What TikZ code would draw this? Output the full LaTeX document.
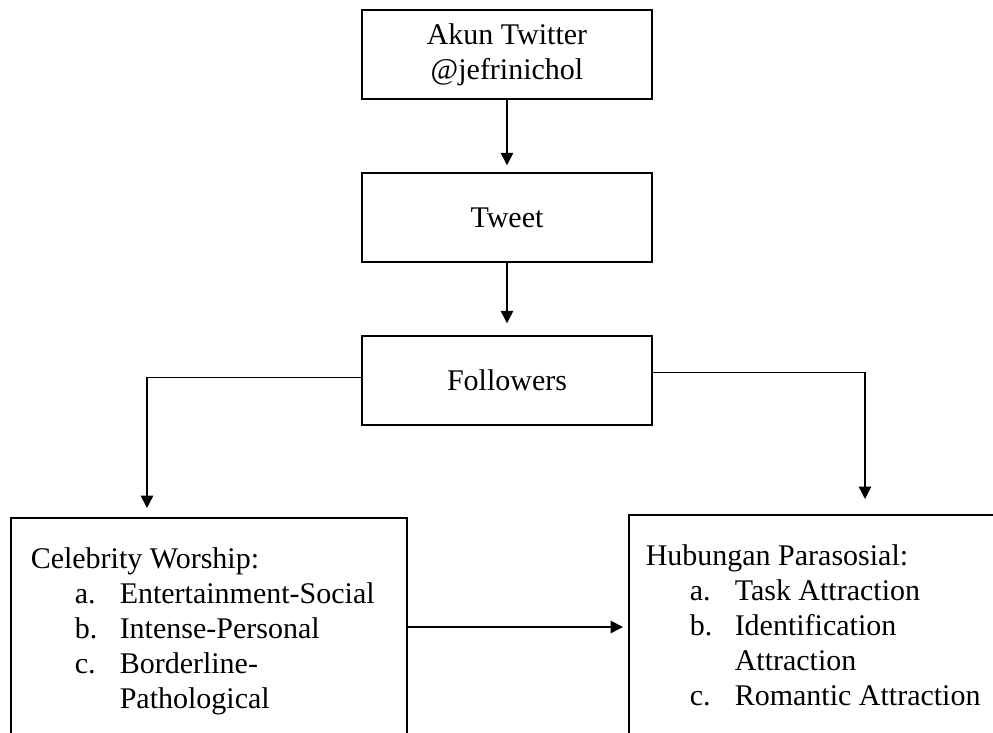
\documentclass[tikz,border=0pt]{standalone}
\usepackage{fontspec}
\setmainfont{Liberation Serif}
\usetikzlibrary{arrows.meta}
\newcommand{\listitem}[2]{\hspace*{17.6pt}\makebox[18pt][l]{#1}#2}
\newcommand{\listcont}[1]{\hspace*{35.6pt}#1}

\begin{document}
\begin{tikzpicture}[x=0.4pt, y=0.4pt, font=\fontsize{12}{14}\selectfont, line width=0.6pt,
                    main/.style = {draw, minimum width=116pt, minimum height=35.6pt, align=center},
                    listbox/.style = {draw, anchor=north west, inner ysep=12pt},
                    arr/.style = {-{Triangle[length=5pt, width=5pt]}},
                    node distance=65.2pt]
                    \useasboundingbox (0,0) rectangle (993,-733);
                    \clip (0,0) rectangle (993,-733);

                    \node[main] (1) at (507,-54.5) {Akun Twitter\\@jefrinichol};
                    \node[main] (2) [below of=1] {Tweet};
                    \node[main] (3) [below of=2] {Followers};

                    \node[listbox, inner xsep=8pt] (4) at (10,-517) {\parbox[t][90pt][t]{142.4pt}{Celebrity Worship:\\
                        \listitem{a.}{Entertainment-Social}\\
                        \listitem{b.}{Intense-Personal}\\
                        \listitem{c.}{Borderline-}\\
                        \listcont{Pathological}}};
                    \node[listbox, inner xsep=6.8pt] (5) at (628,-514) {\parbox[t][90pt][t]{145pt}{Hubungan Parasosial:\\
                        \listitem{a.}{Task Attraction}\\
                        \listitem{b.}{Identification}\\
                        \listcont{Attraction}\\
                        \listitem{c.}{Romantic Attraction}}};

                    \coordinate (6) at ([yshift=-44pt]4.north east);

                    \draw[arr, shorten >=2.8pt] (1) -- (2);
                    \draw[arr, shorten >=4.8pt] (2) -- (3);
                    \draw[arr, shorten >=3.6pt] ([yshift=1.2pt]3.west) -| ([xshift=54.8pt]4.north west);
                    \draw[arr, shorten >=6pt] ([yshift=3.2pt]3.east) -| ([xshift=94.8pt]5.north west);
                    \draw[arr, shorten >=2pt] (6) -- (6 -| 5.west);
                \end{tikzpicture}
\end{document}
